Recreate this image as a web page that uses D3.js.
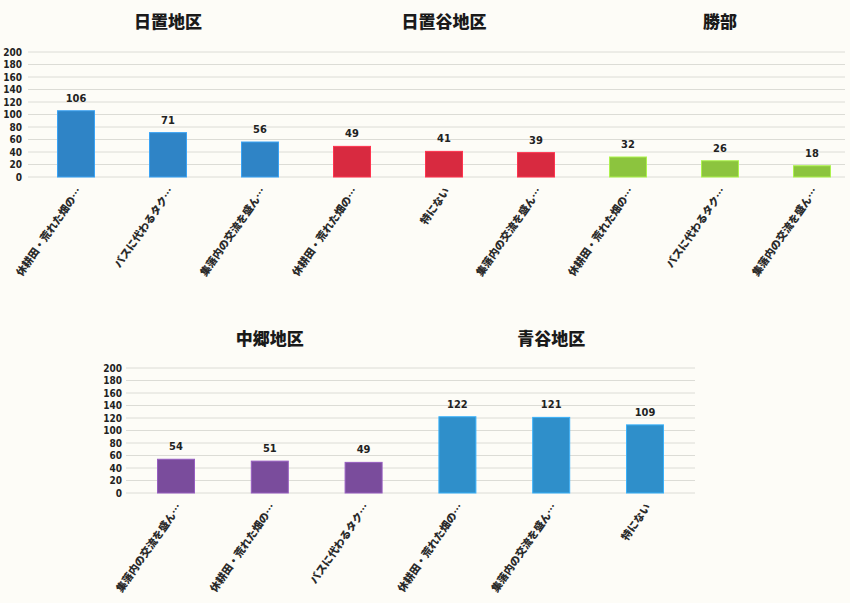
<!DOCTYPE html>
<html>
<head>
<meta charset="utf-8">
<script src="https://cdn.jsdelivr.net/npm/d3@7/dist/d3.min.js"></script>
<style>
  html, body { margin: 0; padding: 0; background: #fdfcf7; }
  svg { display: block; }
</style>
</head>
<body>
<svg id="chart" width="850" height="603"></svg>
<script>
// Survey answers per district (counts)
const topRegions = ["日置地区", "日置谷地区", "勝部"];
const topCategories = [
  "休耕田・荒れた畑の…", "バスに代わるタク…", "集落内の交流を盛ん…",
  "休耕田・荒れた畑の…", "特にない", "集落内の交流を盛ん…",
  "休耕田・荒れた畑の…", "バスに代わるタク…", "集落内の交流を盛ん…"
];
const topValues = [106, 71, 56, 49, 41, 39, 32, 26, 18];
const topColors = ["#2f84c6", "#d82a40", "#8cc43e"];

const bottomRegions = ["中郷地区", "青谷地区"];
const bottomCategories = [
  "集落内の交流を盛ん…", "休耕田・荒れた畑の…", "バスに代わるタク…",
  "休耕田・荒れた畑の…", "集落内の交流を盛ん…", "特にない"
];
const bottomValues = [54, 51, 49, 122, 121, 109];
const bottomColors = ["#7a4c9c", "#2f8fca"];

const yTicks = [0, 20, 40, 60, 80, 100, 120, 140, 160, 180, 200];

const svg = d3.select("#chart");
const numFont = "'Liberation Sans Narrow', 'DejaVu Sans Condensed', sans-serif";
const cjkFont = "'Noto Sans CJK JP', sans-serif";

function panel(cfg) {
  const g = svg.append("g");
  const y = d3.scaleLinear().domain([0, 200]).range([cfg.y0, cfg.y1]);
  const idx = d3.range(cfg.values.length);
  const x = d3.scalePoint().domain(idx).range(cfg.xr);
  const barW = 37;

  // gridlines
  g.selectAll("line.grid").data(yTicks).join("line")
    .attr("x1", cfg.gx[0]).attr("x2", cfg.gx[1])
    .attr("y1", d => y(d)).attr("y2", d => y(d))
    .attr("stroke", "#dcdcd6").attr("stroke-width", 1);

  // y axis labels
  const axis = d3.axisLeft(y).tickValues(yTicks).tickSize(0).tickPadding(0);
  const ax = g.append("g").attr("transform", `translate(${cfg.ax},0)`).call(axis);
  ax.select(".domain").remove();
  ax.selectAll("text")
    .attr("font-family", numFont).attr("font-weight", "bold")
    .attr("font-size", 10).attr("fill", "#222");

  // bars
  g.selectAll("rect.bar").data(idx).join("rect")
    .attr("x", i => x(i) - barW / 2)
    .attr("width", barW)
    .attr("y", i => y(cfg.values[i]))
    .attr("height", i => y(0) - y(cfg.values[i]))
    .attr("fill", i => cfg.colors[Math.floor(i / 3)])
    .attr("stroke", i => d3.color(cfg.colors[Math.floor(i / 3)]).brighter(0.6))
    .attr("stroke-width", 1);

  // value labels
  g.selectAll("text.val").data(idx).join("text")
    .attr("x", i => x(i))
    .attr("y", i => y(cfg.values[i]) - 9)
    .attr("text-anchor", "middle")
    .attr("font-family", numFont).attr("font-weight", "bold")
    .attr("font-size", 11).attr("fill", "#222")
    .text(i => cfg.values[i]);

  // category labels
  g.selectAll("text.cat").data(idx).join("text")
    .attr("transform", i => `translate(${x(i) + 6},${y(0) + 14}) rotate(-55)`)
    .attr("text-anchor", "end")
    .attr("font-family", cjkFont).attr("font-weight", "900")
    .attr("font-size", 10.5).attr("fill", "#2a2a2a")
    .text(i => cfg.cats[i]);

  // region titles, centred over each group of three bars
  g.selectAll("text.title").data(cfg.regions).join("text")
    .attr("x", (d, k) => x(k * 3 + 1))
    .attr("y", cfg.ty)
    .attr("text-anchor", "middle")
    .attr("font-family", cjkFont).attr("font-weight", "900")
    .attr("font-size", 17).attr("fill", "#1a1a1a")
    .text(d => d);
}

panel({
  values: topValues, cats: topCategories, colors: topColors, regions: topRegions,
  y0: 177, y1: 52, xr: [76, 812], gx: [28, 845], ax: 22, ty: 28
});
panel({
  values: bottomValues, cats: bottomCategories, colors: bottomColors, regions: bottomRegions,
  y0: 493, y1: 368, xr: [176, 645], gx: [126, 695], ax: 122, ty: 345
});
</script>
</body>
</html>
